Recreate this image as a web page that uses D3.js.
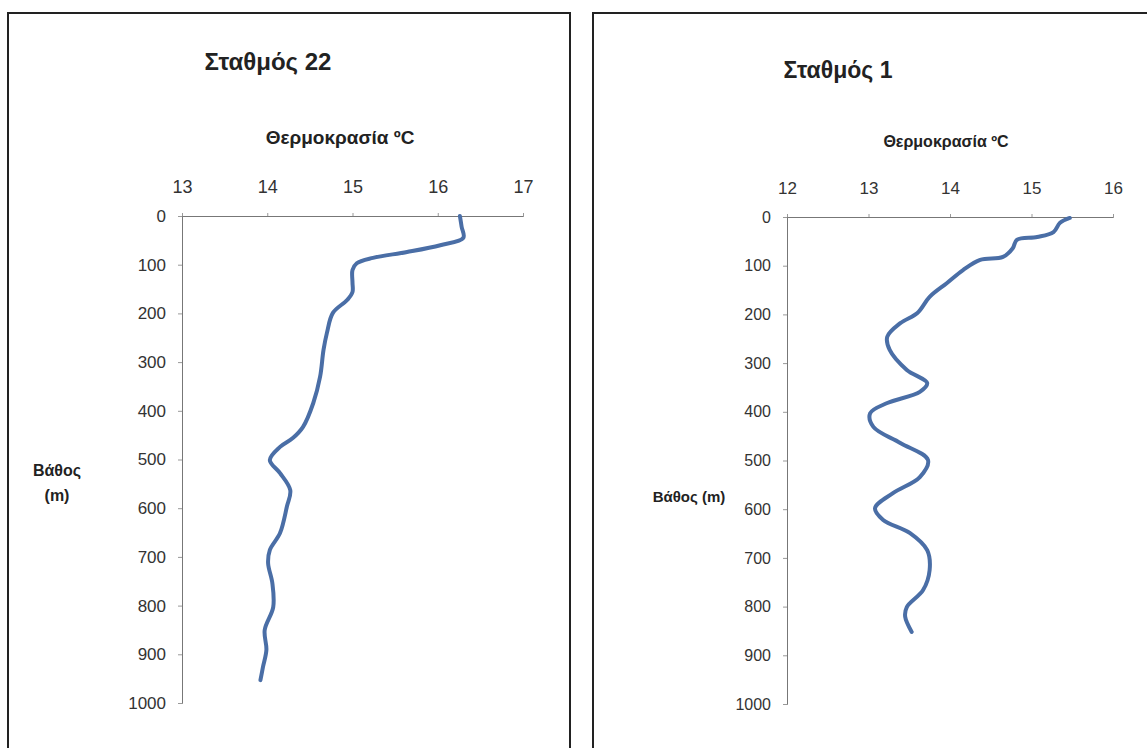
<!DOCTYPE html>
<html>
<head>
<meta charset="utf-8">
<script src="https://cdn.jsdelivr.net/npm/d3@7"></script>
<style>
  body { margin: 0; background: #fff; }
  svg { display: block; font-family: "Liberation Sans", Arial, sans-serif; }
</style>
</head>
<body>
<svg id="chart" width="1147" height="748"></svg>
<script>
// Σταθμός 22: depth (m) and temperature (°C)
const depth22 = [0, 22, 45, 60, 74, 86, 97, 111, 137, 156, 172, 199, 240, 275, 330, 384, 433, 456, 474, 501, 528, 563, 597, 651, 686, 713, 754, 803, 850, 891, 926, 953];
const temp22 = [16.26, 16.28, 16.30, 16.03, 15.64, 15.24, 15.05, 15.0, 15.0, 15.0, 14.94, 14.77, 14.70, 14.66, 14.62, 14.54, 14.42, 14.30, 14.15, 14.03, 14.15, 14.27, 14.23, 14.15, 14.03, 14.01, 14.06, 14.07, 13.97, 13.99, 13.95, 13.92];

// Σταθμός 1
const depth1 = [2, 12, 31, 41, 47, 64, 82, 88, 109, 136, 164, 197, 218, 246, 273, 314, 341, 359, 382, 403, 431, 464, 499, 534, 567, 598, 622, 649, 684, 725, 766, 801, 821, 852];
const temp1 = [15.47, 15.35, 15.27, 15.07, 14.82, 14.77, 14.65, 14.37, 14.16, 13.96, 13.75, 13.60, 13.39, 13.23, 13.26, 13.47, 13.72, 13.63, 13.23, 13.02, 13.06, 13.39, 13.73, 13.63, 13.30, 13.08, 13.18, 13.51, 13.72, 13.75, 13.67, 13.47, 13.45, 13.53];

const depthTicks = [0, 100, 200, 300, 400, 500, 600, 700, 800, 900, 1000];
const tempTicks22 = [13, 14, 15, 16, 17];
const tempTicks1 = [12, 13, 14, 15, 16];

const svg = d3.select("#chart");
const lineColor = "#4a6ea6";

// panel frames
svg.append("rect").attr("x", 8).attr("y", 13).attr("width", 562).attr("height", 760)
    .attr("fill", "none").attr("stroke", "#222").attr("stroke-width", 2);
svg.append("rect").attr("x", 593).attr("y", 13).attr("width", 580).attr("height", 760)
    .attr("fill", "none").attr("stroke", "#222").attr("stroke-width", 2);

function drawPanel(cfg) {
    const x = d3.scaleLinear().domain(cfg.xDomain).range(cfg.xRange);
    const y = d3.scaleLinear().domain([0, 1000]).range(cfg.yRange);
    const g = svg.append("g");

    const xAxis = g.append("g")
        .attr("transform", `translate(0,${y(0)})`)
        .call(d3.axisTop(x).tickValues(cfg.xTicks).tickSize(3).tickPadding(20).tickFormat(d3.format("d")));
    xAxis.select(".domain").attr("stroke", "#777");
    xAxis.selectAll(".tick line").attr("stroke", "#999");
    xAxis.selectAll("text").attr("font-size", cfg.tickFont).attr("fill", "#333")
        .attr("font-family", "Liberation Sans, Arial, sans-serif");

    const yAxis = g.append("g")
        .attr("transform", `translate(${x(cfg.xDomain[0])},0)`)
        .call(d3.axisLeft(y).tickValues(depthTicks).tickSize(4).tickPadding(12).tickFormat(d3.format("d")));
    yAxis.select(".domain").attr("stroke", "#777");
    yAxis.selectAll(".tick line").attr("stroke", "#999");
    yAxis.selectAll("text").attr("font-size", cfg.yTickFont).attr("fill", "#333")
        .attr("font-family", "Liberation Sans, Arial, sans-serif");

    const pts = cfg.depth.map((d, i) => [cfg.temp[i], d]);
    g.append("path")
        .datum(pts)
        .attr("d", d3.line().x(d => x(d[0])).y(d => y(d[1])).curve(d3.curveCatmullRom.alpha(0.5)))
        .attr("fill", "none")
        .attr("stroke", lineColor)
        .attr("stroke-width", 4)
        .attr("stroke-linecap", "round")
        .attr("stroke-linejoin", "round");

    g.append("text").attr("x", cfg.titleX).attr("y", cfg.titleY)
        .attr("text-anchor", "middle").attr("font-size", cfg.titleFont).attr("font-weight", "bold")
        .attr("fill", "#222").text(cfg.title);

    g.append("text").attr("x", cfg.xLabelX).attr("y", cfg.xLabelY)
        .attr("text-anchor", "middle").attr("font-size", cfg.xLabelFont).attr("font-weight", "bold")
        .attr("fill", "#222").text("Θερμοκρασία ºC");

    cfg.yLabel.forEach((t, i) => {
        g.append("text").attr("x", cfg.yLabelX).attr("y", cfg.yLabelY + i * 25)
            .attr("text-anchor", "middle").attr("font-size", cfg.yLabelFont).attr("font-weight", "bold")
            .attr("fill", "#222").text(t);
    });
}

drawPanel({
    xDomain: [13, 17], xRange: [182, 523], yRange: [216, 703],
    xTicks: tempTicks22, depth: depth22, temp: temp22,
    tickFont: "18px", yTickFont: "17px",
    title: "Σταθμός 22", titleX: 268, titleY: 70, titleFont: "24px",
    xLabelX: 340, xLabelY: 144, xLabelFont: "19px",
    yLabel: ["Βάθος", "(m)"], yLabelX: 57, yLabelY: 476, yLabelFont: "16px"
});

drawPanel({
    xDomain: [12, 16], xRange: [787, 1113], yRange: [217, 704],
    xTicks: tempTicks1, depth: depth1, temp: temp1,
    tickFont: "17px", yTickFont: "16px",
    title: "Σταθμός 1", titleX: 838, titleY: 78, titleFont: "23px",
    xLabelX: 946, xLabelY: 147, xLabelFont: "16px",
    yLabel: ["Βάθος (m)"], yLabelX: 689, yLabelY: 502, yLabelFont: "15px"
});
</script>
</body>
</html>
